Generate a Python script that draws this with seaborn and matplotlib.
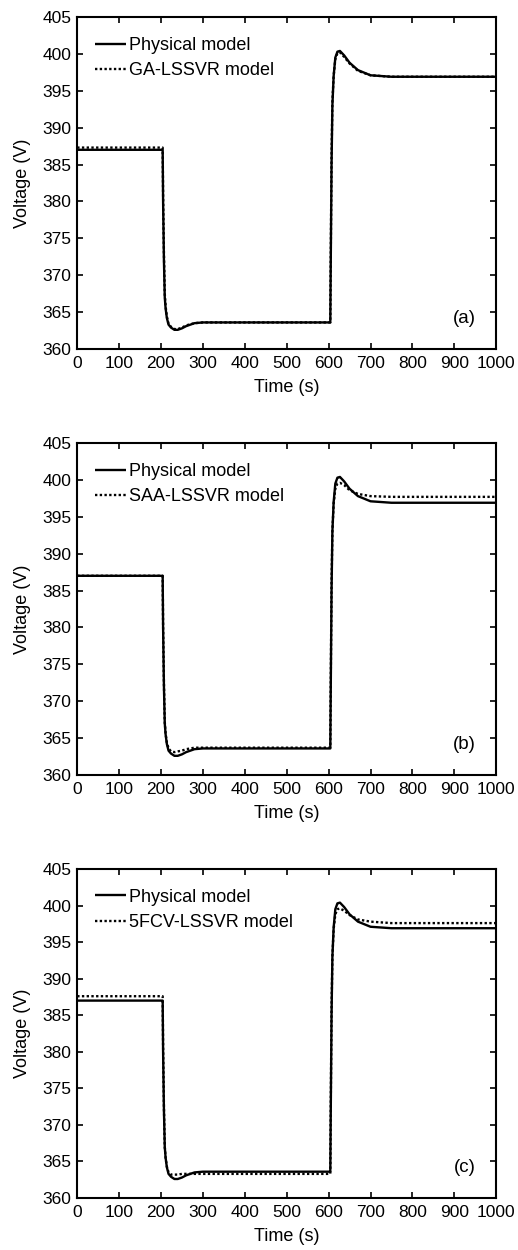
import pandas as pd
import matplotlib
matplotlib.use("Agg")
import matplotlib.pyplot as plt
import seaborn as sns

# time points (s)
time = [0, 204, 205, 207, 209, 211, 214, 218, 224, 232, 240, 250, 260, 280, 300,
        350, 400, 604, 605, 607, 609, 612, 616, 621, 627, 637, 650, 670, 700,
        750, 800, 1000]

# physical model voltage (V)
physical = [387.0, 387.0, 380.0, 372.0, 367.0, 365.5, 364.2, 363.3, 362.9, 362.6,
            362.6, 362.8, 363.1, 363.5, 363.6, 363.6, 363.6, 363.6, 371.0, 385.0,
            393.0, 397.0, 399.5, 400.3, 400.4, 399.8, 398.8, 397.8, 397.1, 396.9,
            396.9, 396.9]

ga_lssvr = [387.3, 387.3, 381.0, 373.0, 367.5, 365.8, 364.4, 363.4, 363.0, 362.7,
            362.7, 362.9, 363.2, 363.5, 363.6, 363.6, 363.6, 363.6, 372.0, 386.0,
            393.5, 397.0, 399.3, 400.1, 400.2, 399.6, 398.7, 397.7, 397.1, 396.9,
            396.9, 396.9]

saa_lssvr = [387.0, 387.0, 380.5, 372.5, 367.2, 365.6, 364.4, 363.6, 363.2, 363.1,
             363.2, 363.3, 363.5, 363.7, 363.7, 363.7, 363.7, 363.7, 372.0, 386.0,
             393.0, 396.8, 398.8, 399.5, 399.6, 399.3, 398.6, 398.1, 397.8, 397.7,
             397.7, 397.7]

fcv_lssvr = [387.6, 387.6, 381.0, 372.5, 367.0, 365.5, 364.3, 363.5, 363.2, 363.2,
             363.2, 363.3, 363.3, 363.3, 363.3, 363.3, 363.3, 363.3, 372.0, 386.0,
             393.0, 396.8, 398.8, 399.5, 399.6, 399.3, 398.7, 398.1, 397.8, 397.6,
             397.6, 397.6]

model_names = ["GA-LSSVR model", "SAA-LSSVR model", "5FCV-LSSVR model"]
model_values = [ga_lssvr, saa_lssvr, fcv_lssvr]
panel_tags = ["(a)", "(b)", "(c)"]

sns.set_style("ticks")
plt.rcParams['font.family'] = ['Liberation Sans', 'DejaVu Sans']
plt.rcParams['xtick.direction'] = 'in'
plt.rcParams['ytick.direction'] = 'in'
plt.rcParams['text.color'] = 'black'
plt.rcParams['axes.labelcolor'] = 'black'
plt.rcParams['axes.edgecolor'] = 'black'

fig = plt.figure(figsize=(5.18, 12.5), dpi=100)
axes_pos = [
    [0.149, 0.7208, 0.809, 0.2656],
    [0.149, 0.3800, 0.809, 0.2656],
    [0.149, 0.0416, 0.809, 0.2632],
]

for pos, name, vals, tag in zip(axes_pos, model_names, model_values, panel_tags):
    ax = fig.add_axes(pos)
    df = pd.DataFrame({
        "Time": time * 2,
        "Voltage": physical + vals,
        "Model": ["Physical model"] * len(time) + [name] * len(time),
    })
    sns.lineplot(data=df, x="Time", y="Voltage", hue="Model", style="Model",
                 palette=["black", "black"], dashes=[(1, 0), (1, 1)],
                 sort=False, ax=ax, linewidth=1.7)
    ax.set_xlim(0, 1000)
    ax.set_ylim(360, 405)
    ax.set_xticks(range(0, 1001, 100))
    ax.set_yticks(range(360, 406, 5))
    ax.tick_params(top=True, right=True, labelsize=12.5, length=4, width=1.2,
                   colors='black')
    ax.tick_params(axis='x', pad=5)
    ax.tick_params(axis='y', pad=4)
    for sp in ax.spines.values():
        sp.set_linewidth(1.5)
        sp.set_visible(True)
    ax.set_xlabel("Time (s)", fontsize=13, labelpad=6)
    ax.set_ylabel("Voltage (V)", fontsize=13, labelpad=8)
    leg = ax.legend(loc="upper left", bbox_to_anchor=(0.043, 0.94),
                    frameon=False, fontsize=13, borderpad=0, borderaxespad=0,
                    handlelength=1.7, handletextpad=0.15, labelspacing=0.45)
    for h in leg.get_lines():
        h.set_linewidth(1.7)
    ax.text(0.952, 0.093, tag, transform=ax.transAxes, ha="right", va="center",
            fontsize=13.5)

fig.savefig("out.png", dpi=100)
